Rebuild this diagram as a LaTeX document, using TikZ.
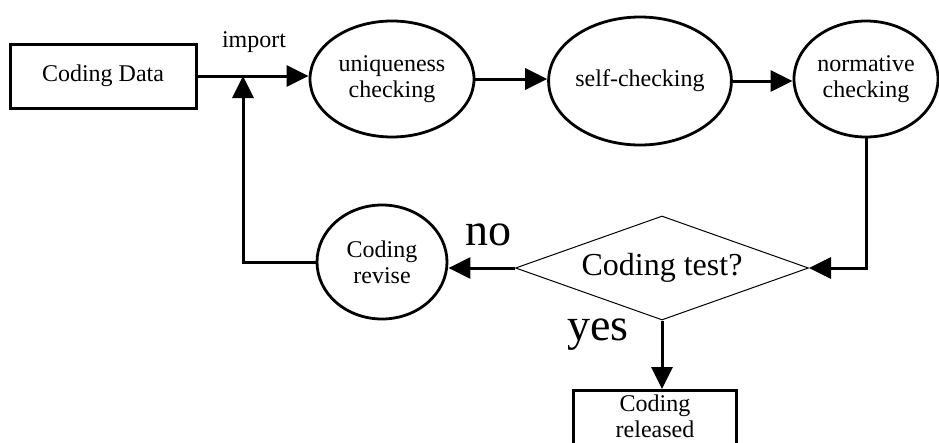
\documentclass[tikz,border=0pt]{standalone}
\usepackage{fontspec}
\setmainfont{Liberation Serif}
\usetikzlibrary{shapes.geometric,arrows.meta}
\begin{document}
\begin{tikzpicture}[x=1pt,y=-1pt,
  txt/.style={font=\fontsize{24}{26}\selectfont, align=center},
  box/.style={draw, line width=3pt, rectangle, inner sep=0pt, txt},
  oval/.style={draw, line width=2.8pt, ellipse, inner sep=0pt, txt},
  decision/.style={draw, line width=1pt, diamond, aspect=2.8, inner sep=0pt,
    minimum width=293pt, minimum height=104pt, font=\fontsize{32}{36}\selectfont},
  arr/.style={line width=3pt, -{Triangle[length=22pt,width=21pt]}},
  big/.style={font=\fontsize{46}{50}\selectfont, inner sep=0pt}]
\useasboundingbox (0,0) rectangle (939,442);
\node[box, minimum width=186pt, minimum height=64pt] (data) at (103,76) {Coding Data};
\node[oval, minimum width=164pt, minimum height=116pt] (uniq) at (392,79) {uniqueness\\checking};
\node[oval, minimum width=180pt, minimum height=128pt] (self) at (640,81) {self-checking};
\node[oval, minimum width=144pt, minimum height=116pt] (norm) at (866,79) {normative\\checking};
\node[decision] (test) at (662,268) {Coding test?};
\node[oval, minimum width=130pt, minimum height=114pt] (rev) at (382,262) {Coding\\revise};
\node[box, anchor=north, minimum width=163pt, inner ysep=4pt, text depth=45pt] (rel) at (655,389) {Coding\\released};
\coordinate (j) at (243,76);
\node[txt, anchor=base, inner sep=0pt] (imp) at (254,47) {import};
\node[big, anchor=base] (no) at (488,245) {no};
\node[big, anchor=base] (yes) at (598,340) {yes};
\draw[arr] (data.east) -- (data.east -| uniq.west);
\draw[arr] (rev.west) -| (j);
\draw[arr] (uniq.east) -- (uniq.east -| self.west);
\draw[arr] (self.east) -- (self.east -| norm.west);
\draw[arr] (norm.south) |- (test.east);
\draw[arr] (test.west) -- (test.west -| rev.east);
\draw[arr] (test.south) -- (test.south |- rel.north);
\end{tikzpicture}
\end{document}
